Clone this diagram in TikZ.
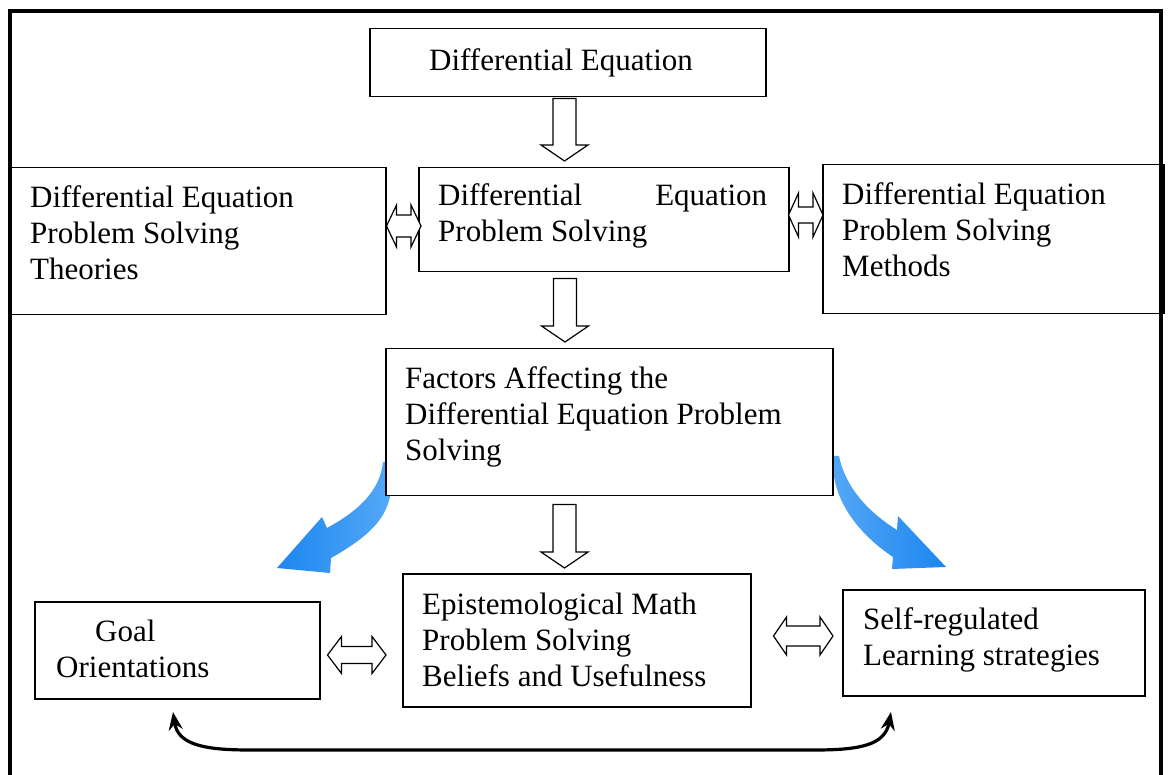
\documentclass[tikz,border=0pt]{standalone}
\usepackage{fontspec}
\setmainfont{Liberation Serif}
\usetikzlibrary{arrows.meta,calc}

\definecolor{flowlight}{RGB}{85,168,246}
\definecolor{flowdark}{RGB}{28,134,240}

\tikzset{
  frameline/.style={line width=3.2pt},
  box/.style={draw, line width=1.5pt, fill=white, rectangle, inner sep=0pt, anchor=north west},
  txt/.style={anchor=base west, inner sep=0pt, font=\fontsize{31}{36}\selectfont},
  hollow/.style={draw, line width=1.2pt, fill=white, line join=miter},
  loop link/.style={line width=3.2pt,
    {Stealth[length=18pt,width=14pt]}-{Stealth[length=18pt,width=14pt]}},
}

% hollow block arrow pointing down, from the bottom of #1 to the top of #2
% #3 x position, #4 gap below #1, #5 gap above #2
\newcommand\downblock[5]{%
  \draw[hollow] let \p1=(#1.south), \p2=(#2.north) in
    (#3pt-11.5pt,\y1-#4pt) -- (#3pt+11.5pt,\y1-#4pt)
    -- (#3pt+11.5pt,\y2+#5pt+16pt) -- (#3pt+23.5pt,\y2+#5pt+16pt)
    -- (#3pt,\y2+#5pt)
    -- (#3pt-23.5pt,\y2+#5pt+16pt) -- (#3pt-11.5pt,\y2+#5pt+16pt) -- cycle;}

% hollow two-headed block arrow between #1 (left) and #2 (right)
% #3 left gap, #4 right gap, #5 centre y, #6 shaft half width,
% #7 head half width, #8 head length
\newcommand\sideblock[8]{%
  \draw[hollow] let \p1=(#1.east), \p2=(#2.west) in
    (\x1+#3pt,-#5pt)
    -- (\x1+#3pt+#8pt,-#5pt+#7pt) -- (\x1+#3pt+#8pt,-#5pt+#6pt)
    -- (\x2-#4pt-#8pt,-#5pt+#6pt) -- (\x2-#4pt-#8pt,-#5pt+#7pt)
    -- (\x2-#4pt,-#5pt)
    -- (\x2-#4pt-#8pt,-#5pt-#7pt) -- (\x2-#4pt-#8pt,-#5pt-#6pt)
    -- (\x1+#3pt+#8pt,-#5pt-#6pt) -- (\x1+#3pt+#8pt,-#5pt-#7pt) -- cycle;}

\begin{document}
\begin{tikzpicture}[x=1pt,y=-1pt]
\useasboundingbox (0,0) rectangle (1168,775);
\fill[white] (0,0) rectangle (1168,775);

% curved blue arrows leaving the factors box
\shade[left color=flowdark, right color=flowlight]
  (383,462) .. controls (380,490) and (360,510) .. (327,528)
  -- (322,517) -- (277,568) -- (330,573) -- (331,558)
  .. controls (366,538) and (388,520) .. (391,490) -- (391,462) -- cycle;
\shade[left color=flowlight, right color=flowdark]
  (833,456) .. controls (830,500) and (860,535) .. (893,557)
  -- (892,569) -- (946,567) -- (898,516) -- (897,530)
  .. controls (865,510) and (845,485) .. (839,456) -- cycle;

% boxes
\node[box, minimum width=396pt, minimum height=68pt]  (de) at (369,28) {};
\node[box, minimum width=375pt, minimum height=147pt] (th) at (10,167) {};
\node[box, minimum width=370pt, minimum height=104pt] (dp) at (418,167) {};
\node[box, minimum width=341pt, minimum height=149pt] (me) at (822,164) {};
\node[box, minimum width=447pt, minimum height=147pt] (fa) at (385,348) {};
\node[box, minimum width=285pt, minimum height=97pt]  (go) at (34,601) {};
\node[box, minimum width=348pt, minimum height=133pt] (ep) at (402,573) {};
\node[box, minimum width=302pt, minimum height=106pt] (sr) at (842,589) {};

% outer frame (open at the bottom)
\draw[frameline] (10,790) -- (10,11) -- (1161,11) -- (1161,790);

% texts
\node[txt] (deT) at (429,71) {Differential Equation};
\node[txt] (thT) at (30,208) {\begin{tabular}[t]{@{}l@{}}Differential Equation\\Problem Solving\\Theories\end{tabular}};
\node[txt] (dpT) at (438,206) {\begin{tabular}[t]{@{}l@{}}\makebox[329pt][s]{Differential Equation}\\Problem Solving\end{tabular}};
\node[txt] (meT) at (842,205) {\begin{tabular}[t]{@{}l@{}}Differential Equation\\Problem Solving\\Methods\end{tabular}};
\node[txt] (faT) at (405,389) {\begin{tabular}[t]{@{}l@{}}Factors Affecting the\\Differential Equation Problem\\Solving\end{tabular}};
\node[txt] (goT) at (56,641) {\begin{tabular}[t]{@{}l@{}}\hspace*{39pt}Goal\\Orientations\end{tabular}};
\node[txt] (epT) at (422,614) {\begin{tabular}[t]{@{}l@{}}Epistemological Math\\Problem Solving\\Beliefs and Usefulness\end{tabular}};
\node[txt] (srT) at (863,629) {\begin{tabular}[t]{@{}l@{}}Self-regulated\\Learning strategies\end{tabular}};

% hollow block arrows
\downblock{de}{dp}{564.5}{1}{6}
\downblock{dp}{fa}{565}{6}{6}
\downblock{fa}{ep}{564.5}{8}{5}
\sideblock{th}{dp}{0}{-3}{226}{11}{21}{10}
\sideblock{dp}{me}{-1}{-1}{215}{8}{22}{10}
\sideblock{go}{ep}{7}{16}{655}{8.5}{18.5}{14}
\sideblock{ep}{sr}{22}{9}{636}{10}{19}{13}

% curved two-headed link under the bottom row
\coordinate (gl) at (173,712);
\coordinate (gr) at (891,712);
\draw[loop link] (gl) .. controls (178,745) and (205,750) .. (250,750)
  -- (815,750) .. controls (860,750) and (885,745) .. (gr);
\end{tikzpicture}
\end{document}
